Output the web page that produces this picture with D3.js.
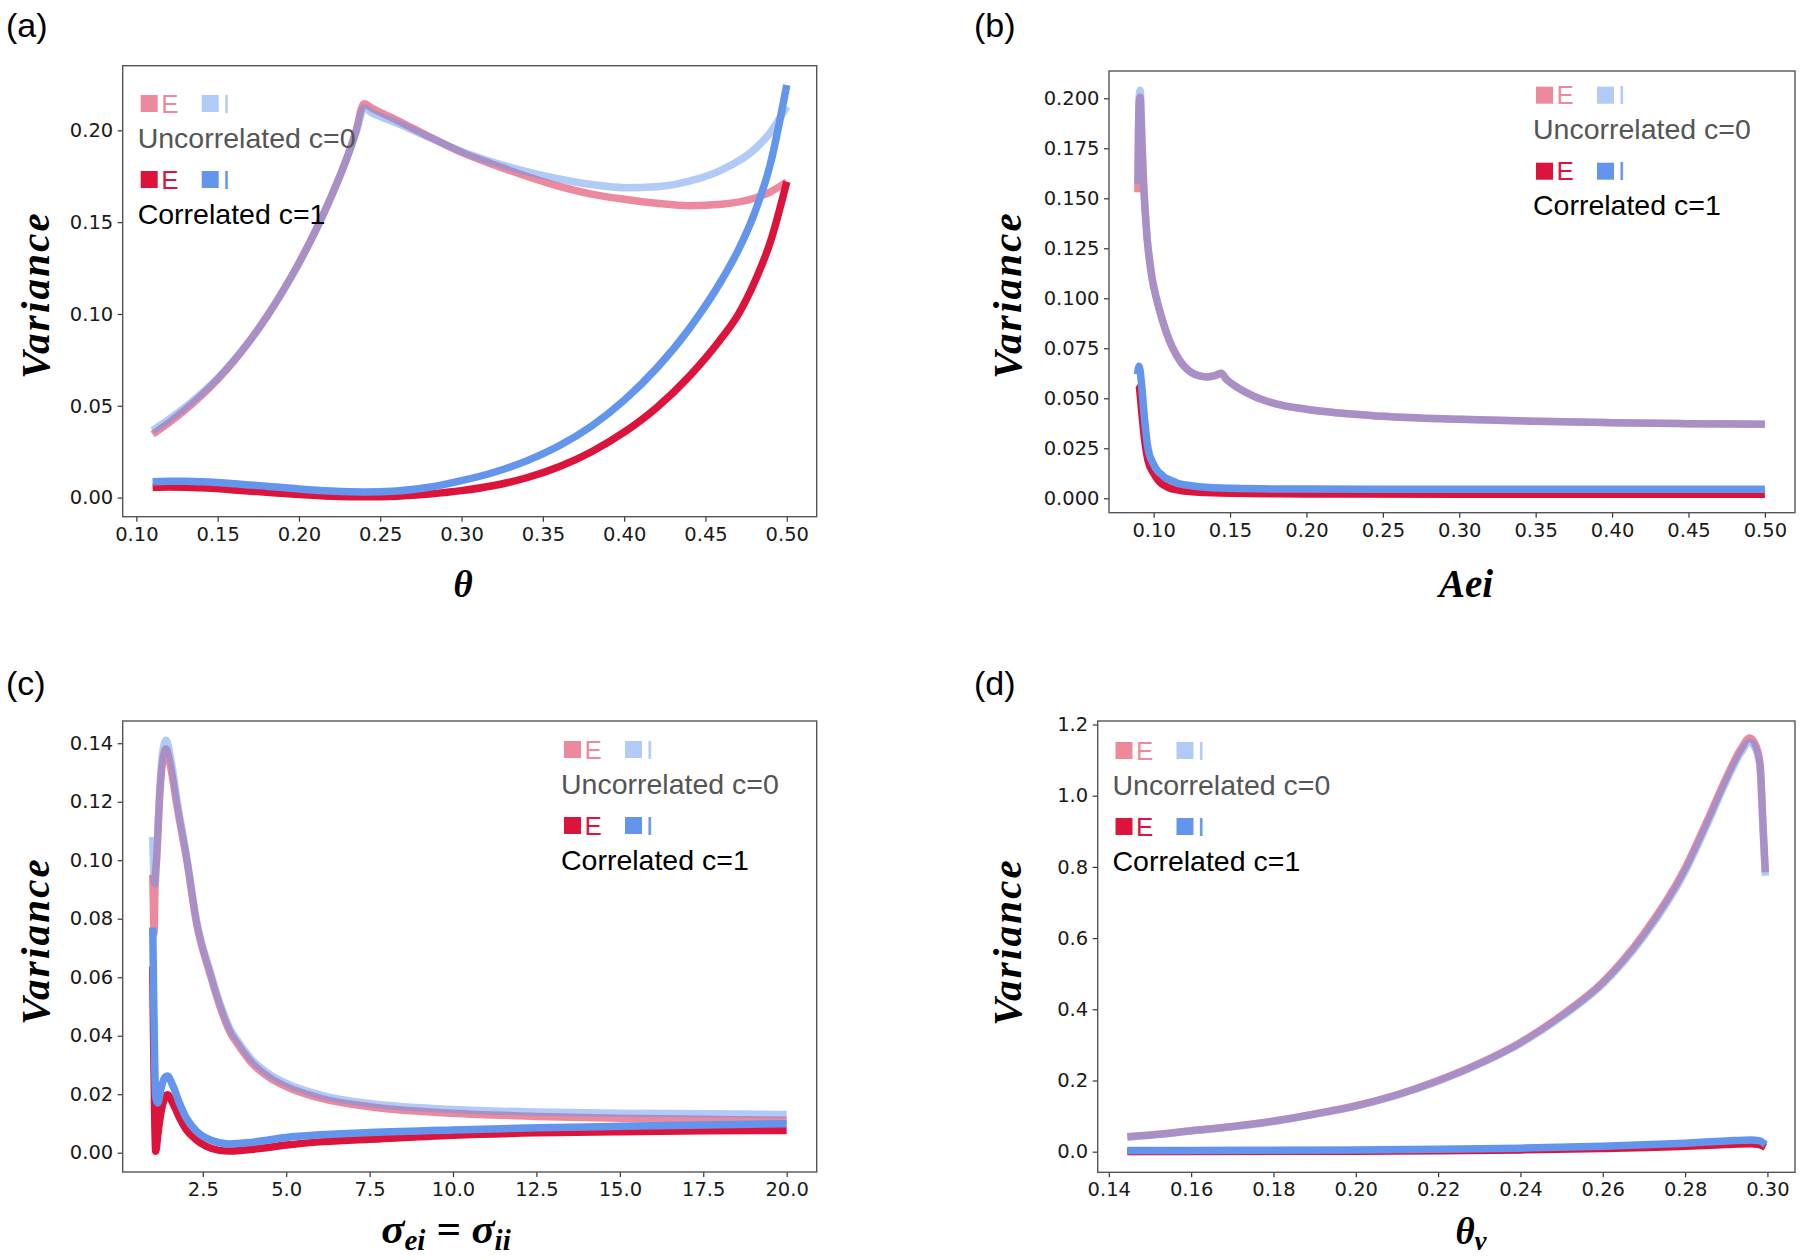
<!DOCTYPE html>
<html><head><meta charset="utf-8">
<script src="https://cdn.jsdelivr.net/npm/d3@7"></script>
<style>body{margin:0;background:#fff}</style>
</head><body>
<svg id="chart" width="1800" height="1260"></svg>
<script>
// ---------------- DATA ----------------
// (a) variance vs theta
const A_X_UNC = [0.11,0.12,0.13,0.14,0.15,0.16,0.17,0.18,0.19,0.20,0.21,0.22,0.23,0.235,0.24,0.245,0.26,0.28,0.30,0.32,0.34,0.36,0.38,0.40,0.42,0.44,0.46,0.48,0.49,0.50];
const A_E_UNC = [0.0345,0.0408,0.0478,0.0556,0.0644,0.0744,0.0857,0.0983,0.1123,0.1278,0.145,0.1642,0.1862,0.1995,0.2145,0.212,0.2056,0.1966,0.188,0.1812,0.175,0.1695,0.1653,0.1625,0.1603,0.159,0.1598,0.163,0.1665,0.172];
const A_I_UNC = [0.0365,0.0426,0.0493,0.0567,0.0651,0.0748,0.0858,0.0983,0.1123,0.1278,0.145,0.1642,0.1862,0.1985,0.212,0.2095,0.204,0.1962,0.1885,0.1825,0.1775,0.1735,0.1705,0.1688,0.1693,0.1723,0.1785,0.1895,0.199,0.213];
const A_X_COR = [0.11,0.12,0.13,0.14,0.16,0.18,0.20,0.22,0.24,0.26,0.28,0.30,0.32,0.34,0.36,0.38,0.40,0.42,0.44,0.46,0.47,0.48,0.49,0.50];
const A_E_COR = [0.0056,0.0058,0.0057,0.0053,0.0042,0.0029,0.0017,0.0008,0.0004,0.0008,0.002,0.0038,0.0066,0.0108,0.0168,0.025,0.0356,0.049,0.066,0.087,0.0995,0.117,0.1395,0.172];
const A_I_COR = [0.0086,0.0089,0.0089,0.0086,0.0076,0.0062,0.0047,0.0036,0.0031,0.0036,0.0056,0.0092,0.0138,0.020,0.0282,0.039,0.053,0.0705,0.092,0.1185,0.1345,0.1545,0.182,0.2247];
const A_X_TICKS = [0.10,0.15,0.20,0.25,0.30,0.35,0.40,0.45,0.50];
const A_Y_TICKS = [0.00,0.05,0.10,0.15,0.20];

// (b) variance vs Aei
const B_X_UNC = [0.0897,0.0900,0.0905,0.0912,0.0918,0.0925,0.0935,0.0945,0.0957,0.0975,0.099,0.102,0.106,0.110,0.115,0.120,0.125,0.130,0.135,0.140,0.144,0.148,0.155,0.165,0.18,0.20,0.25,0.30,0.35,0.40,0.45,0.50];
const B_E_UNC = [0.153,0.175,0.197,0.2005,0.190,0.174,0.156,0.143,0.130,0.118,0.110,0.0995,0.0885,0.0795,0.0715,0.066,0.0628,0.0612,0.0607,0.0613,0.0625,0.0592,0.0553,0.0512,0.0472,0.0445,0.041,0.0395,0.0385,0.0378,0.0373,0.037];
const B_I_UNC = [0.157,0.178,0.200,0.204,0.193,0.176,0.157,0.144,0.131,0.118,0.110,0.0995,0.0885,0.0795,0.0715,0.066,0.0628,0.0612,0.0607,0.0613,0.0625,0.0592,0.0553,0.0512,0.0472,0.0445,0.041,0.0395,0.0385,0.0378,0.0373,0.037];
const B_X_COR = [0.0895,0.0905,0.092,0.094,0.0963,0.100,0.1028,0.105,0.108,0.1107,0.117,0.12,0.13,0.15,0.20,0.30,0.40,0.50];
const B_E_COR = [0.057,0.056,0.045,0.030,0.019,0.0125,0.0092,0.0075,0.006,0.005,0.004,0.0036,0.003,0.0025,0.0022,0.002,0.002,0.002];
const B_I_COR = [0.062,0.066,0.058,0.040,0.025,0.017,0.0135,0.012,0.010,0.0092,0.0072,0.0068,0.0058,0.005,0.0046,0.0045,0.0045,0.0045];
const B_X_TICKS = [0.10,0.15,0.20,0.25,0.30,0.35,0.40,0.45,0.50];
const B_Y_TICKS = [0.000,0.025,0.050,0.075,0.100,0.125,0.150,0.175,0.200];

// (c) variance vs sigma_ei = sigma_ii
const C_X_UNC = [1.00,1.02,1.04,1.07,1.12,1.22,1.30,1.40,1.55,1.72,2.02,2.32,2.72,3.0,3.35,3.5,4.0,4.5,5.0,6.0,7.5,10,12.5,15,17.5,20];
const C_E_UNC = [0.095,0.085,0.075,0.092,0.101,0.124,0.134,0.138,0.131,0.119,0.100,0.078,0.061,0.0505,0.0405,0.0379,0.0303,0.0257,0.0226,0.0187,0.0157,0.0135,0.0124,0.0118,0.0114,0.0111];
const C_I_UNC = [0.108,0.100,0.093,0.092,0.102,0.126,0.137,0.141,0.134,0.121,0.101,0.079,0.062,0.0515,0.0416,0.039,0.0314,0.0268,0.0237,0.0198,0.0168,0.0148,0.0139,0.0135,0.0133,0.0131];
const C_X_COR = [1.00,1.03,1.06,1.09,1.15,1.25,1.35,1.44,1.6,1.8,2.0,2.3,2.6,3.0,3.3,4.0,5.0,6.0,7.5,10,12.5,15,17.5,20];
const C_E_COR = [0.0636,0.035,0.012,0.0005,0.006,0.014,0.0185,0.0198,0.017,0.012,0.008,0.0045,0.0022,0.0008,0.0006,0.0012,0.0026,0.0037,0.0046,0.006,0.0068,0.0072,0.0075,0.0076];
const C_I_COR = [0.077,0.052,0.030,0.019,0.017,0.022,0.0255,0.0262,0.023,0.017,0.012,0.0075,0.005,0.0034,0.003,0.0036,0.0052,0.0061,0.0069,0.0078,0.0085,0.009,0.0095,0.0099];
const C_X_TICKS = [2.5,5.0,7.5,10.0,12.5,15.0,17.5,20.0];
const C_Y_TICKS = [0.00,0.02,0.04,0.06,0.08,0.10,0.12,0.14];

// (d) variance vs theta_v
const D_X_UNC = [0.1445,0.15,0.16,0.17,0.18,0.19,0.20,0.21,0.22,0.23,0.24,0.25,0.26,0.27,0.28,0.285,0.29,0.2935,0.2957,0.2972,0.2982,0.299,0.2995];
const D_E_UNC = [0.042,0.047,0.059,0.071,0.086,0.106,0.129,0.160,0.200,0.248,0.307,0.383,0.476,0.612,0.796,0.920,1.050,1.130,1.162,1.14,1.09,0.90,0.785];
const D_I_UNC = [0.041,0.046,0.058,0.070,0.085,0.105,0.128,0.159,0.198,0.246,0.304,0.379,0.471,0.605,0.787,0.910,1.040,1.120,1.150,1.13,1.08,0.89,0.775];
const D_X_COR = [0.1445,0.16,0.18,0.20,0.22,0.24,0.26,0.28,0.29,0.296,0.298,0.2995];
const D_E_COR = [0.0005,0.0007,0.001,0.0015,0.0025,0.005,0.009,0.015,0.020,0.022,0.020,0.013];
const D_I_COR = [0.003,0.0035,0.004,0.005,0.007,0.010,0.015,0.024,0.030,0.033,0.031,0.020];
const D_X_TICKS = [0.14,0.16,0.18,0.20,0.22,0.24,0.26,0.28,0.30];
const D_Y_TICKS = [0.0,0.2,0.4,0.6,0.8,1.0,1.2];

const LEGEND_TEXT = ["Uncorrelated c=0", "Correlated c=1"];
const Y_LABEL = "Variance";

// ---------------- LAYOUT ----------------
const CRIMSON = "#DC143C", CBLUE = "#6495ED";
const zip = (xs, ys) => xs.map((v, i) => [v, ys[i]]);

const panels = [
  { label: "(a)", lab: [6, 37], box: [122.7, 816.7, 65.7, 516.7],
    xd: [0.0916, 0.5184], yd: [-0.0104, 0.2352], xt: A_X_TICKS, yt: A_Y_TICKS, xf: ".2f", yf: ".2f",
    unc: [A_X_UNC, A_E_UNC, A_I_UNC], cor: [A_X_COR, A_E_COR, A_I_COR],
    leg: [137.7, 95], ylab: [49, 295], xlab: { x: 463, y: 597, parts: [["θ", 37, 0]] } },
  { label: "(b)", lab: [974, 37], box: [1109, 1795, 71, 512.7],
    xd: [0.0708, 0.5197], yd: [-0.0072, 0.21365], xt: B_X_TICKS, yt: B_Y_TICKS, xf: ".2f", yf: ".3f",
    unc: [B_X_UNC, B_E_UNC, B_I_UNC], cor: [B_X_COR, B_E_COR, B_I_COR],
    leg: [1533, 86.7], ylab: [1021, 295], xlab: { x: 1466, y: 597, parts: [["Aei", 39, 0]] } },
  { label: "(c)", lab: [6, 695], box: [122.7, 816.7, 721, 1172],
    xd: [0.1, 20.9], yd: [-0.0066, 0.1476], xt: C_X_TICKS, yt: C_Y_TICKS, xf: ".1f", yf: ".2f",
    unc: [C_X_UNC, C_E_UNC, C_I_UNC], cor: [C_X_COR, C_E_COR, C_I_COR],
    leg: [561, 741], ylab: [49, 941],
    xlab: { x: 446, y: 1243, parts: [["σ", 43, 0], ["ei", 29, 7], [" = ", 43, -7], ["σ", 43, 0], ["ii", 29, 7]] } },
  { label: "(d)", lab: [974, 695], box: [1097.7, 1795, 721, 1172.3],
    xd: [0.1373, 0.3067], yd: [-0.0579, 1.2098], xt: D_X_TICKS, yt: D_Y_TICKS, xf: ".2f", yf: ".1f",
    unc: [D_X_UNC, D_E_UNC, D_I_UNC], cor: [D_X_COR, D_E_COR, D_I_COR],
    leg: [1112.5, 742], ylab: [1021, 942], xlab: { x: 1471, y: 1244, parts: [["θ", 37, 0], ["v", 27, 6]] } }
];

const svg = d3.select("#chart");
svg.append("rect").attr("width", 1800).attr("height", 1260).attr("fill", "#fff");

panels.forEach((p, pi) => {
  const [x0, x1, y0, y1] = p.box;
  const x = d3.scaleLinear().domain(p.xd).range([x0, x1]);
  const y = d3.scaleLinear().domain(p.yd).range([y1, y0]);
  const g = svg.append("g");

  const cid = "clip" + pi;
  svg.append("clipPath").attr("id", cid).append("rect")
    .attr("x", x0).attr("y", y0).attr("width", x1 - x0).attr("height", y1 - y0);

  const line = d3.line().x(d => x(d[0])).y(d => y(d[1])).curve(d3.curveMonotoneX);
  const lg = g.append("g").attr("clip-path", `url(#${cid})`);
  const series = [
    { d: zip(p.unc[0], p.unc[1]), c: CRIMSON, o: 0.5 },
    { d: zip(p.unc[0], p.unc[2]), c: CBLUE, o: 0.5 },
    { d: zip(p.cor[0], p.cor[1]), c: CRIMSON, o: 1 },
    { d: zip(p.cor[0], p.cor[2]), c: CBLUE, o: 1 }
  ];
  series.forEach(s => {
    lg.append("path").attr("d", line(s.d)).attr("fill", "none")
      .attr("stroke", s.c).attr("stroke-opacity", s.o).attr("stroke-width", 7.5)
      .attr("stroke-linejoin", "round").attr("stroke-linecap", "butt");
  });

  const xa = d3.axisBottom(x).tickValues(p.xt).tickFormat(d3.format(p.xf)).tickSize(5).tickPadding(5);
  const ya = d3.axisLeft(y).tickValues(p.yt).tickFormat(d3.format(p.yf)).tickSize(5).tickPadding(4.5);
  const gx = g.append("g").attr("transform", `translate(0,${y1})`).call(xa);
  const gy = g.append("g").attr("transform", `translate(${x0},0)`).call(ya);
  [gx, gy].forEach(a => {
    a.select(".domain").remove();
    a.selectAll(".tick line").attr("stroke", "#333").attr("stroke-width", 1.2);
    a.selectAll(".tick text").attr("fill", "#1a1a1a")
      .style("font-family", "'DejaVu Sans', sans-serif").style("font-size", "19.5px");
  });

  g.append("rect").attr("x", x0).attr("y", y0).attr("width", x1 - x0).attr("height", y1 - y0)
    .attr("fill", "none").attr("stroke", "#555").attr("stroke-width", 1.4);

  const [L, T] = p.leg;
  const rows = [{ o: 0.5, dy: 0, txt: LEGEND_TEXT[0], tc: "#555" }, { o: 1, dy: 76, txt: LEGEND_TEXT[1], tc: "#000" }];
  rows.forEach(r => {
    const t = T + r.dy;
    g.append("rect").attr("x", L + 3).attr("y", t).attr("width", 17).attr("height", 17).attr("fill", CRIMSON).attr("fill-opacity", r.o);
    g.append("text").attr("x", L + 23.5).attr("y", t + 17.5).text("E").attr("fill", CRIMSON).attr("fill-opacity", r.o)
      .style("font-family", "'Liberation Sans', Arial, sans-serif").style("font-size", "26px");
    g.append("rect").attr("x", L + 64).attr("y", t).attr("width", 17).attr("height", 17).attr("fill", CBLUE).attr("fill-opacity", r.o);
    g.append("text").attr("x", L + 85).attr("y", t + 17.5).text("I").attr("fill", CBLUE).attr("fill-opacity", r.o)
      .style("font-family", "'Liberation Sans', Arial, sans-serif").style("font-size", "26px");
    g.append("text").attr("x", L).attr("y", t + 52.5).text(r.txt).attr("fill", r.tc)
      .style("font-family", "'Liberation Sans', Arial, sans-serif").style("font-size", "28.5px");
  });

  svg.append("text").attr("x", p.lab[0]).attr("y", p.lab[1]).text(p.label).attr("fill", "#000")
    .style("font-family", "'Liberation Sans', Arial, sans-serif").style("font-size", "34px");

  svg.append("text").attr("transform", `translate(${p.ylab[0]},${p.ylab[1]}) rotate(-90)`)
    .attr("text-anchor", "middle").text(Y_LABEL).attr("fill", "#000")
    .style("font-family", "'Liberation Serif', serif").style("font-weight", "bold").style("font-style", "italic")
    .style("font-size", "41px").style("letter-spacing", "2.2px");

  const xt = svg.append("text").attr("x", p.xlab.x).attr("y", p.xlab.y).attr("text-anchor", "middle").attr("fill", "#000")
    .style("font-family", "'Liberation Serif', serif").style("font-weight", "bold").style("font-style", "italic")
    .style("white-space", "pre");
  p.xlab.parts.forEach(pt => {
    xt.append("tspan").text(pt[0]).attr("dy", pt[2]).style("font-size", pt[1] + "px");
  });
});
</script>
</body></html>
